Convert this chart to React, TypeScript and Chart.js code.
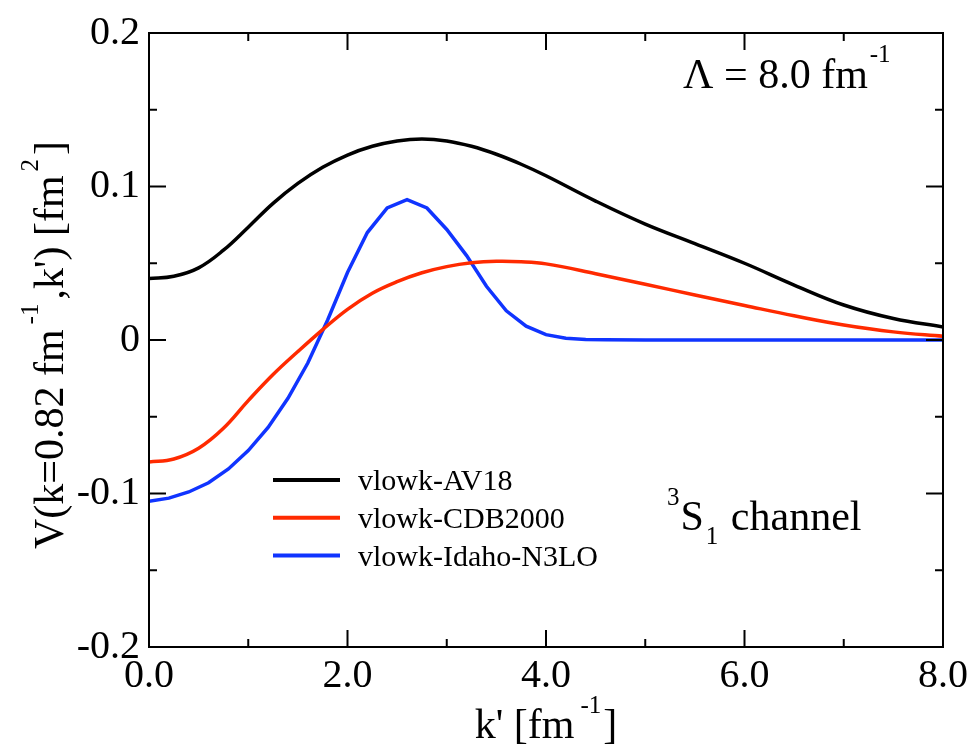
import React, { useEffect, useRef } from 'react';
import { Chart, registerables } from 'chart.js';
Chart.register(...registerables);

const SERIF = '"Liberation Serif", "Times New Roman", serif';

// k' values [fm^-1] and V values [fm^2]
const kAV18 = [0, 0.25, 0.5, 0.75, 1.0, 1.25, 1.5, 1.75, 2.0, 2.25, 2.5, 2.75, 3.0, 3.25, 3.5, 3.75, 4.0, 4.5, 5.0, 5.5, 6.0, 6.5, 7.0, 7.5, 8.0];
const vAV18 = [0.0400, 0.0415, 0.0470, 0.0585, 0.0735, 0.0890, 0.1020, 0.1125, 0.1205, 0.1262, 0.1297, 0.1310, 0.1297, 0.1262, 0.1210, 0.1145, 0.1070, 0.0905, 0.0755, 0.0628, 0.0500, 0.0358, 0.0228, 0.0140, 0.0085];

const kCDB = [0, 0.25, 0.5, 0.75, 1.0, 1.25, 1.5, 1.75, 2.0, 2.25, 2.5, 2.75, 3.0, 3.25, 3.5, 3.75, 4.0, 4.5, 5.0, 5.5, 6.0, 6.5, 7.0, 7.5, 8.0];
const vCDB = [-0.0795, -0.0775, -0.0705, -0.0575, -0.0395, -0.0225, -0.0075, 0.0068, 0.0200, 0.0305, 0.0380, 0.0438, 0.0478, 0.0503, 0.0513, 0.0510, 0.0496, 0.0432, 0.0363, 0.0293, 0.0225, 0.0158, 0.0098, 0.0053, 0.0025];

const kN3LO = [0, 0.2, 0.4, 0.6, 0.8, 1.0, 1.2, 1.4, 1.6, 1.8, 2.0, 2.2, 2.4, 2.6, 2.8, 3.0, 3.2, 3.4, 3.6, 3.8, 4.0, 4.2, 4.4, 4.6, 5.0, 6.0, 7.0, 8.0];
const vN3LO = [-0.105, -0.103, -0.099, -0.093, -0.084, -0.072, -0.057, -0.038, -0.015, 0.013, 0.044, 0.070, 0.086, 0.0915, 0.086, 0.072, 0.055, 0.035, 0.019, 0.009, 0.0035, 0.0012, 0.0004, 0.0001, 0, 0, 0, 0];

const seriesLabels = ['vlowk-AV18', 'vlowk-CDB2000', 'vlowk-Idaho-N3LO'];
const seriesColors = ['#000000', '#ff2a00', '#1034ff'];

const xMajorTicks = [0, 2, 4, 6, 8];
const xMinorTicks = [1, 3, 5, 7];
const yMajorTicks = [-0.2, -0.1, 0, 0.1, 0.2];
const yMinorTicks = [-0.15, -0.05, 0.05, 0.15];

type Seg = { t: string; size: number; dy?: number; gap?: number };

function richWidth(ctx: CanvasRenderingContext2D, segs: Seg[]) {
  let w = 0;
  for (const s of segs) {
    ctx.font = `${s.size}px ${SERIF}`;
    w += (s.gap || 0) + ctx.measureText(s.t).width;
  }
  return w;
}

function drawRich(ctx: CanvasRenderingContext2D, segs: Seg[], x: number, y: number) {
  let cx = x;
  ctx.textBaseline = 'alphabetic';
  ctx.textAlign = 'left';
  for (const s of segs) {
    ctx.font = `${s.size}px ${SERIF}`;
    cx += s.gap || 0;
    ctx.fillText(s.t, cx, y + (s.dy || 0));
    cx += ctx.measureText(s.t).width;
  }
}

const decorPlugin = {
  id: 'decor',
  afterDraw(chart: any) {
    const ctx: CanvasRenderingContext2D = chart.ctx;
    const xs = chart.scales.x;
    const ys = chart.scales.y;
    const { left, right, top, bottom } = chart.chartArea;
    ctx.save();
    ctx.strokeStyle = '#000';
    ctx.fillStyle = '#000';
    ctx.lineWidth = 2;
    const seg = (x1: number, y1: number, x2: number, y2: number) => {
      ctx.beginPath();
      ctx.moveTo(x1, y1);
      ctx.lineTo(x2, y2);
      ctx.stroke();
    };
    // inward ticks, mirrored on all sides
    for (const v of xMajorTicks) {
      const px = xs.getPixelForValue(v);
      seg(px, bottom, px, bottom - 17);
      seg(px, top, px, top + 17);
    }
    for (const v of xMinorTicks) {
      const px = xs.getPixelForValue(v);
      seg(px, bottom, px, bottom - 8);
      seg(px, top, px, top + 8);
    }
    for (const v of yMajorTicks) {
      const py = ys.getPixelForValue(v);
      seg(left, py, left + 17, py);
      seg(right, py, right - 17, py);
    }
    for (const v of yMinorTicks) {
      const py = ys.getPixelForValue(v);
      seg(left, py, left + 8, py);
      seg(right, py, right - 8, py);
    }
    ctx.strokeRect(left, top, right - left, bottom - top);

    // legend
    const legendY = [480, 517.7, 555.5];
    chart.data.datasets.forEach((ds: any, i: number) => {
      ctx.strokeStyle = ds.borderColor;
      ctx.lineWidth = 4;
      seg(273, legendY[i], 340, legendY[i]);
      ctx.font = `30px ${SERIF}`;
      ctx.textAlign = 'left';
      ctx.textBaseline = 'alphabetic';
      ctx.fillText(ds.label, 358, legendY[i] + 10);
    });

    // annotations
    drawRich(ctx, [
      { t: 'Λ = 8.0 fm', size: 42 },
      { t: '-1', size: 25, dy: -26, gap: 2 },
    ], 683, 88);
    drawRich(ctx, [
      { t: '3', size: 25, dy: -25 },
      { t: 'S', size: 42, gap: 1 },
      { t: '1', size: 25, dy: 14, gap: 2 },
      { t: ' channel', size: 42, gap: 2 },
    ], 667, 530);

    // x title
    const xTitle: Seg[] = [
      { t: "k' [fm", size: 42 },
      { t: '-1', size: 25, dy: -25, gap: 6 },
      { t: ']', size: 42, gap: 2 },
    ];
    const xw = richWidth(ctx, xTitle);
    drawRich(ctx, xTitle, (left + right) / 2 - xw / 2, 738);

    // y title (rotated)
    const yTitle: Seg[] = [
      { t: 'V(k=0.82 fm', size: 42 },
      { t: '-1', size: 25, dy: -25, gap: 5 },
      { t: ",k') [fm", size: 42, gap: 4 },
      { t: '2', size: 25, dy: -25, gap: 4 },
      { t: ']', size: 42, gap: 4 },
    ];
    const yw = richWidth(ctx, yTitle);
    ctx.translate(63, 345);
    ctx.rotate(-Math.PI / 2);
    drawRich(ctx, yTitle, -yw / 2, 0);
    ctx.restore();
  },
};

export default function App() {
  const ref = useRef<HTMLCanvasElement>(null);
  useEffect(() => {
    const canvas = ref.current!;
    const mk = (ks: number[], vs: number[]) => ks.map((k, i) => ({ x: k, y: vs[i] }));
    const chart = new Chart(canvas, {
      type: 'line',
      data: {
        datasets: [
          { label: seriesLabels[0], data: mk(kAV18, vAV18), borderColor: seriesColors[0], borderWidth: 3.5, pointRadius: 0, tension: 0.4, fill: false },
          { label: seriesLabels[1], data: mk(kCDB, vCDB), borderColor: seriesColors[1], borderWidth: 3.5, pointRadius: 0, tension: 0.4, fill: false },
          { label: seriesLabels[2], data: mk(kN3LO, vN3LO), borderColor: seriesColors[2], borderWidth: 3.5, pointRadius: 0, tension: 0, fill: false },
        ],
      },
      options: {
        responsive: false,
        devicePixelRatio: 1,
        animation: false,
        layout: { padding: { left: 0, top: 27, right: 30, bottom: 0 } },
        plugins: { legend: { display: false }, tooltip: { enabled: false } },
        scales: {
          x: {
            type: 'linear',
            min: 0,
            max: 8,
            grid: { display: false, drawTicks: false },
            border: { display: false },
            ticks: {
              stepSize: 2,
              autoSkip: false,
              maxRotation: 0,
              padding: 5,
              color: '#000',
              font: { family: SERIF, size: 40 },
              callback: (v: any) => Number(v).toFixed(1),
            },
            afterFit: (s: any) => { s.height = 97; },
          },
          y: {
            type: 'linear',
            min: -0.2,
            max: 0.2,
            grid: { display: false, drawTicks: false },
            border: { display: false },
            ticks: {
              stepSize: 0.1,
              autoSkip: false,
              padding: 9,
              color: '#000',
              font: { family: SERIF, size: 40 },
              callback: (v: any) => {
                const r = Math.round(Number(v) * 10) / 10;
                return r === 0 ? '0' : r.toFixed(1);
              },
            },
            afterFit: (s: any) => { s.width = 149; },
          },
        },
      },
      plugins: [decorPlugin],
    } as any);
    return () => chart.destroy();
  }, []);
  return (
    <div style={{ position: 'fixed', left: 0, top: 0, width: 973, height: 744, background: '#fff' }}>
      <canvas ref={ref} width={973} height={744} style={{ display: 'block', width: 973, height: 744 }} />
    </div>
  );
}
